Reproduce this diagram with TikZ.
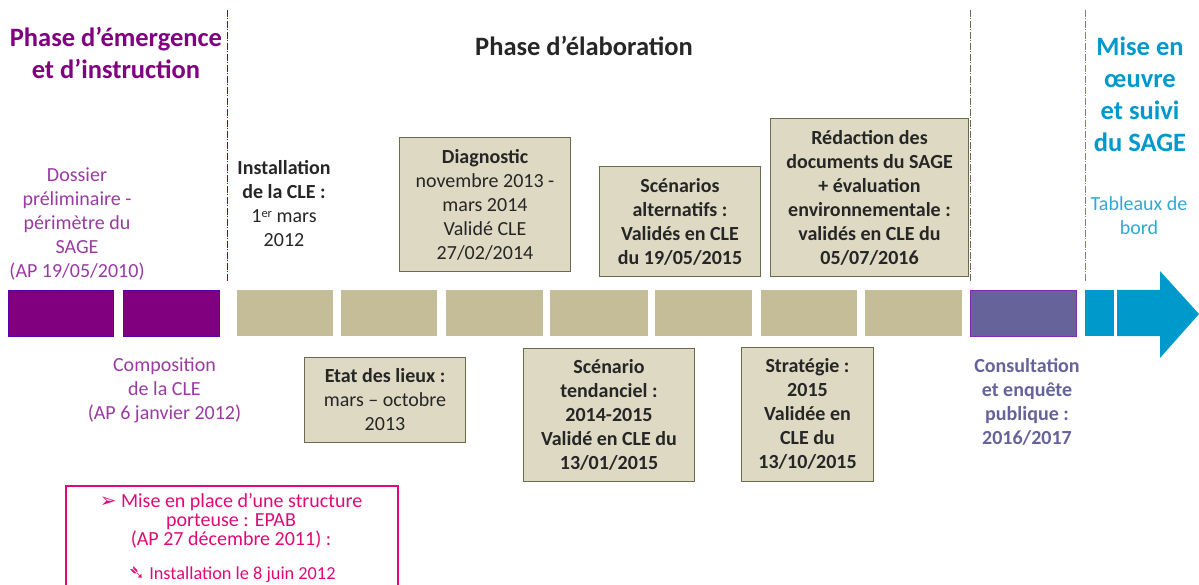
\documentclass[tikz,border=0pt]{standalone}
\usepackage{fontspec}
\setmainfont{Carlito}
\newfontfamily\dejavu{DejaVu Sans}
\definecolor{barc}{HTML}{C4BD97}
\definecolor{boxc}{HTML}{DDD9C3}
\definecolor{boxl}{HTML}{6B6A50}
\definecolor{purp}{HTML}{800080}
\definecolor{lpurp}{HTML}{9A3AA2}
\definecolor{slate}{HTML}{65639A}
\definecolor{blu}{HTML}{0099CC}
\definecolor{lblu}{HTML}{2EA9D3}
\definecolor{pink}{HTML}{DE0A78}
\definecolor{txt}{HTML}{262626}
\tikzset{
 x=1pt,y=-1pt,
 bar/.style={anchor=north west,inner sep=0pt,minimum height=46pt,fill=barc,draw=none},
 pbar/.style={bar,fill=purp,draw=purp!70!blue,line width=.6pt},
 tbox/.style={draw=boxl,fill=boxc,line width=1pt,inner sep=0pt,align=center,text=txt,
   font=\fontsize{20}{24}\selectfont},
 free/.style={inner sep=0pt,align=center,font=\fontsize{20}{24}\selectfont},
 head/.style={inner sep=0pt,align=center,font=\fontsize{26.5}{32}\selectfont\bfseries},
 vsep/.style={line width=.9pt,dash pattern=on 7pt off 1.5pt on 1pt off 1.5pt},
}
\newcommand{\tb}[5]{\node[tbox,minimum width=#3-#1,minimum height=#4-#2] at ({(#1+#3)/2+.5},{(#2+#4)/2}) (#1x#2) {#5};}
\begin{document}
\begin{tikzpicture}
\useasboundingbox (0,0) rectangle (1199,585);
% vertical separators
\coordinate (s1a) at (227,10); \coordinate (s1b) at (227,281);
\coordinate (s2a) at (970,10); \coordinate (s2b) at (970,281);
\coordinate (s3a) at (1085,10); \coordinate (s3b) at (1085,281);
\draw[vsep,purp!85!blue] (s1a) -- (s1b);
\draw[vsep,boxl] (s2a) -- (s2b);
\draw[vsep,slate!85] (s3a) -- (s3b);
% headers
\node[head,text=purp] (h1) at (116,53) {Phase d’émergence\\et d’instruction};
\node[head,text=txt] (h2) at (584,46) {Phase d’élaboration};
\node[head,text=blu] (h3) at (1140,94) {Mise en\\œuvre\\et suivi\\du SAGE};
% bars
\node[pbar,minimum width=105pt] (b1) at (8,290) {};
\node[pbar,minimum width=96pt] (b2) at (123,290) {};
\node[bar,minimum width=96pt] (b3) at (237,290) {};
\node[bar,minimum width=96pt] (b4) at (341,290) {};
\node[bar,minimum width=97pt] (b5) at (446,290) {};
\node[bar,minimum width=98pt] (b6) at (550,290) {};
\node[bar,minimum width=97pt] (b7) at (655,290) {};
\node[bar,minimum width=96pt] (b8) at (761,290) {};
\node[bar,minimum width=97pt] (b9) at (865,290) {};
\node[bar,minimum width=106pt,fill=slate,draw=lpurp!80!blue,line width=.7pt] (b10) at (970,290) {};
\node[bar,minimum width=29pt,fill=blu] (b11) at (1085,290) {};
\fill[blu] (1117,290) -- (1160,290) -- (1160,271) -- (1199,314) -- (1160,358) -- (1160,336) -- (1117,336) -- cycle;
% free texts
\node[free,text=lpurp] (t1) at (77,224.5) {Dossier\\préliminaire -\\périmètre du\\SAGE\\(AP 19/05/2010)};
\node[free,text=lpurp] (t2) at (164.5,390) {Composition\\de la CLE\\(AP 6 janvier 2012)};
\node[free,text=txt] (t3) at (284,203.5) {\textbf{Installation}\\\textbf{de la CLE :}\\1\raisebox{.55ex}{\fontsize{12.5}{12.5}\selectfont er} mars\\2012};
\node[free,text=slate] (t4) at (1027,402) {\textbf{Consultation}\\\textbf{et enquête}\\\textbf{publique :}\\\textbf{2016/2017}};
\node[free,text=lblu] (t5) at (1139,216) {Tableaux de\\bord};
% boxes
\tb{399}{138}{570}{272}{\textbf{Diagnostic}\\novembre 2013 -\\mars 2014\\Validé CLE\\27/02/2014}
\tb{599}{167}{760}{277}{\textbf{Scénarios}\\\textbf{alternatifs :}\\\textbf{Validés en CLE}\\\textbf{du 19/05/2015}}
\tb{770}{119}{968}{277}{\textbf{Rédaction des}\\\textbf{documents du SAGE}\\\textbf{+ évaluation}\\\textbf{environnementale :}\\\textbf{validés en CLE du}\\\textbf{05/07/2016}}
\tb{304}{357}{465}{442}{\textbf{Etat des lieux :}\\mars – octobre\\2013}
\tb{523}{348}{694}{481}{\textbf{Scénario}\\\textbf{tendanciel :}\\\textbf{2014-2015}\\\textbf{Validé en CLE du}\\\textbf{13/01/2015}}
\tb{741}{347}{873}{481}{\textbf{Stratégie :}\\\textbf{2015}\\\textbf{Validée en}\\\textbf{CLE du}\\\textbf{13/10/2015}}
% pink box
\coordinate (pa) at (66,600); \coordinate (pb) at (398,486);
\draw[pink,line width=2.5pt] (pa) rectangle (pb);
\node[inner sep=0pt,align=center,text=pink,font=\fontsize{20}{19}\selectfont] (p1) at (231,520.5) {{\dejavu\fontsize{20}{19}\selectfont ➢} Mise en place d’une structure\\porteuse : EPAB\\(AP 27 décembre 2011) :};
\node[inner sep=0pt,text=pink,font=\fontsize{18.3}{19}\selectfont] (p2) at (232,575) {{\dejavu\fontsize{20}{19}\selectfont ➴} Installation le 8 juin 2012};
\end{tikzpicture}
\end{document}
